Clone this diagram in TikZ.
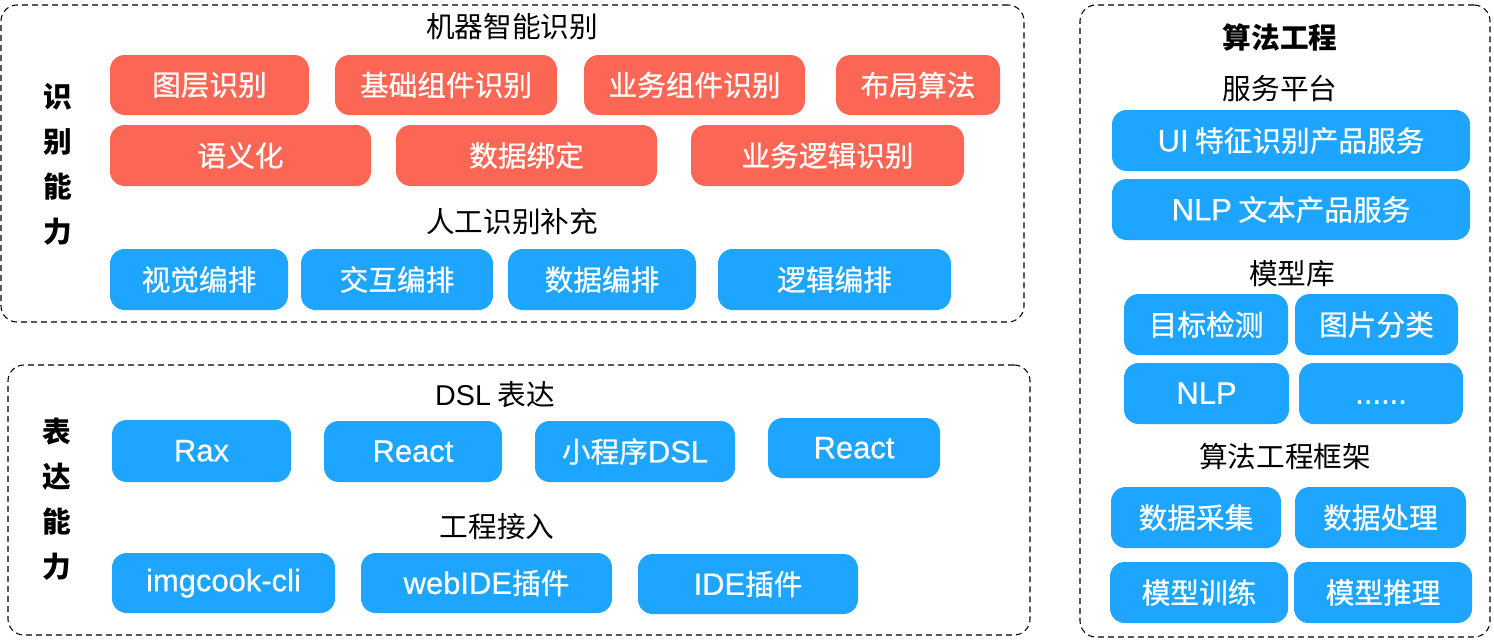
\documentclass[tikz,border=0pt]{standalone}
\usepackage{fontspec}
\setmainfont{Noto Sans CJK SC}
\newfontfamily\boxcjk{Noto Sans CJK SC}[FakeBold=0.7]
\newfontfamily\latb{Liberation Sans}[FakeBold=0.5,Scale=1.08]
\newfontfamily\latr{Liberation Sans}
\definecolor{redb}{RGB}{252,103,85}
\definecolor{blueb}{RGB}{30,165,255}
\newcommand\bx[7]{\node[#2, minimum width={(#5-#3)*0.75pt}, minimum height={(#6-#4)*0.75pt}] (#1) at ({(#3+#5)/2},{(#4+#6)/2}) {\vphantom{图}#7};}
\begin{document}
\begin{tikzpicture}[x=0.75pt,y=-0.75pt,
  base/.style={inner sep=0pt, outer sep=0pt, rounded corners=11pt, font=\fontsize{21.5pt}{26pt}\selectfont\boxcjk, text=white},
  redbox/.style={base, fill=redb},
  bluebox/.style={base, fill=blueb},
  container/.style={inner sep=0pt, outer sep=0pt, draw=black, line width=0.8pt, dash pattern=on 4.5pt off 3pt, rounded corners=12pt},
  lbl/.style={inner sep=0pt, font=\fontsize{21.5pt}{26pt}\selectfont, text=black},
  vlbl/.style={inner sep=0pt, align=center, font=\fontsize{21.5pt}{33.75pt}\selectfont\bfseries, text=black}]
\useasboundingbox (0,0) rectangle (1494,640);
% containers
\bx{c1}{container}{1}{5}{1024}{322}{}
\bx{c2}{container}{8}{365}{1030}{635}{}
\bx{c3}{container}{1080}{5}{1490}{637}{}
% container 1
\node[vlbl] (v1) at (58,164) {识\\别\\能\\力};
\node[lbl] (t1) at (512,27) {机器智能识别};
\bx{r1}{redbox}{110}{55}{309}{115}{图层识别}
\bx{r2}{redbox}{335}{55}{557}{115}{基础组件识别}
\bx{r3}{redbox}{584}{55}{805}{115}{业务组件识别}
\bx{r4}{redbox}{836}{55}{1000}{115}{布局算法}
\bx{r5}{redbox}{110}{125}{371}{186}{语义化}
\bx{r6}{redbox}{396}{125}{657}{186}{数据绑定}
\bx{r7}{redbox}{691}{125}{964}{186}{业务逻辑识别}
\node[lbl] (t2) at (512,222) {人工识别补充};
\bx{b1}{bluebox}{110}{249}{288}{310}{视觉编排}
\bx{b2}{bluebox}{301}{249}{493}{310}{交互编排}
\bx{b3}{bluebox}{508}{249}{696}{310}{数据编排}
\bx{b4}{bluebox}{718}{249}{951}{310}{逻辑编排}
% container 2
\node[vlbl] (v2) at (57,499) {表\\达\\能\\力};
\node[lbl] (t3) at (495,395) {{\latr DSL} 表达};
\bx{d1}{bluebox}{112}{420}{291}{482}{\latb Rax}
\bx{d2}{bluebox}{324}{421}{502}{482}{\latb React}
\bx{d3}{bluebox}{535}{421}{735}{482}{小程序{\latb DSL}}
\bx{d4}{bluebox}{768}{418}{940}{478}{\latb React}
\node[lbl] (t4) at (497,527) {工程接入};
\bx{e1}{bluebox}{112}{553}{335}{613}{\latb imgcook-cli}
\bx{e2}{bluebox}{361}{553}{612}{613}{{\latb webIDE}插件}
\bx{e3}{bluebox}{638}{554}{858}{614}{{\latb IDE}插件}
% container 3
\node[lbl, font=\fontsize{21.5pt}{26pt}\selectfont\bfseries] (t5) at (1280,37) {算法工程};
\node[lbl] (t6) at (1280,89) {服务平台};
\bx{s1}{bluebox}{1112}{110}{1470}{171}{{\latb UI} 特征识别产品服务}
\bx{s2}{bluebox}{1112}{179}{1470}{240}{{\latb NLP} 文本产品服务}
\node[lbl] (t7) at (1292,274) {模型库};
\bx{m1}{bluebox}{1124}{294}{1288}{355}{目标检测}
\bx{m2}{bluebox}{1295}{294}{1458}{355}{图片分类}
\bx{m3}{bluebox}{1124}{363}{1289}{424}{\latb NLP}
\bx{m4}{bluebox}{1299}{363}{1463}{424}{\latb ......}
\node[lbl] (t8) at (1285,457) {算法工程框架};
\bx{f1}{bluebox}{1111}{487}{1281}{548}{数据采集}
\bx{f2}{bluebox}{1295}{487}{1466}{548}{数据处理}
\bx{f3}{bluebox}{1110}{562}{1288}{623}{模型训练}
\bx{f4}{bluebox}{1294}{562}{1472}{623}{模型推理}
\end{tikzpicture}
\end{document}
